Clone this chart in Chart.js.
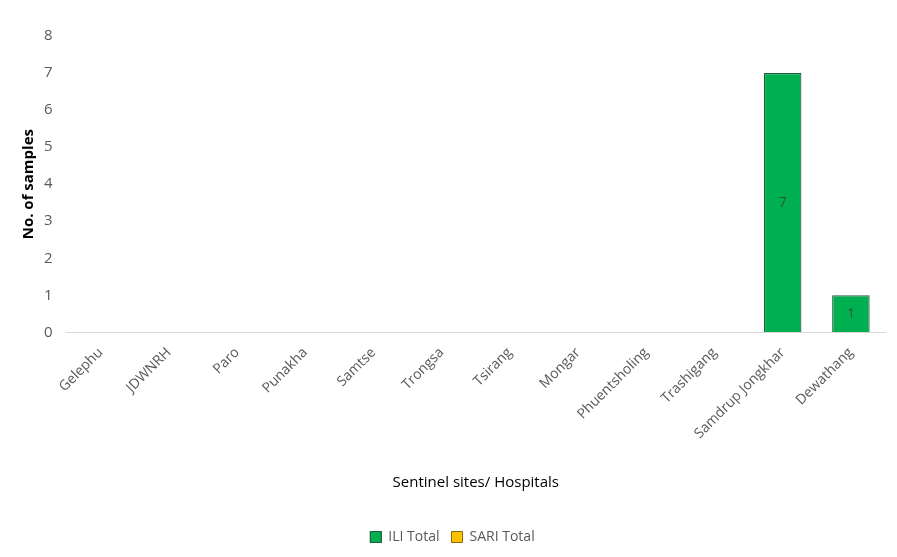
<!DOCTYPE html>
<html>
<head>
<meta charset="utf-8">
<script src="https://cdn.jsdelivr.net/npm/chart.js@4.4.0/dist/chart.umd.min.js"></script>
<style>
  html, body { margin: 0; padding: 0; background: #fff; }
  #wrap { width: 897px; height: 557px; }
</style>
</head>
<body>
<div id="wrap"><canvas id="sitesChart"></canvas></div>
<script>
var sites = ['Gelephu', 'JDWNRH', 'Paro', 'Punakha', 'Samtse', 'Trongsa', 'Tsirang',
    'Mongar', 'Phuentsholing', 'Trashigang', 'Samdrup Jongkhar', 'Dewathang'];
var iliTotal = [0, 0, 0, 0, 0, 0, 0, 0, 0, 0, 7, 1];
var sariTotal = [0, 0, 0, 0, 0, 0, 0, 0, 0, 0, 0, 0];
var yTicks = [0, 1, 2, 3, 4, 5, 6, 7, 8];

var fontFamily = "'Open Sans', 'Liberation Sans', sans-serif";

// draws the value in the middle of each non-zero bar
var barLabels = {
    id: 'barLabels',
    afterDatasetsDraw: function(chart) {
        var ctx = chart.ctx;
        var meta = chart.getDatasetMeta(0);
        ctx.save();
        ctx.fillStyle = '#2f5a3a';
        ctx.font = '14px ' + fontFamily;
        ctx.textAlign = 'center';
        ctx.textBaseline = 'middle';
        meta.data.forEach(function(bar, i) {
            var v = iliTotal[i];
            if (!v) return;
            ctx.fillText(String(v), bar.x, (bar.y + bar.base) / 2);
        });
        ctx.restore();
    }
};

var ctx = document.getElementById('sitesChart');
var myChart = new Chart(ctx, {
    type: 'bar',
    data: {
        labels: sites,
        datasets: [{
            label: 'ILI Total',
            data: iliTotal,
            backgroundColor: '#00b050',
            borderColor: '#1f5f3a',
            borderWidth: 1.2,
            barPercentage: 0.55,
            categoryPercentage: 1.0,
            grouped: false,
            order: 0
        }, {
            label: 'SARI Total',
            data: sariTotal,
            backgroundColor: '#ffc000',
            borderColor: '#8a6a10',
            borderWidth: 1,
            barPercentage: 0.55,
            categoryPercentage: 1.0,
            grouped: false,
            order: 1
        }]
    },
    plugins: [barLabels],
    options: {
        responsive: true,
        maintainAspectRatio: false,
        animation: false,
        layout: { padding: { left: 20, right: 12, top: 36, bottom: 3 } },
        plugins: {
            tooltip: { enabled: false },
            legend: {
                position: 'bottom',
                labels: {
                    boxWidth: 11,
                    boxHeight: 11,
                    padding: 12,
                    color: '#595959',
                    font: { family: fontFamily, size: 14 },
                    sort: function(a, b) { return a.datasetIndex - b.datasetIndex; }
                }
            }
        },
        scales: {
            x: {
                grid: { display: false },
                border: { display: true, color: '#d9d9d9', width: 1 },
                ticks: {
                    color: '#595959',
                    font: { family: fontFamily, size: 14 },
                    maxRotation: 45,
                    minRotation: 45,
                    padding: 4
                },
                title: {
                    display: true,
                    text: 'Sentinel sites/ Hospitals',
                    color: '#000',
                    font: { family: fontFamily, size: 15 },
                    padding: { top: 28, bottom: 26 }
                }
            },
            y: {
                min: 0,
                max: 8,
                afterBuildTicks: function(axis) {
                    axis.ticks = yTicks.map(function(v) { return { value: v }; });
                },
                grid: { display: false },
                border: { display: false },
                ticks: {
                    color: '#595959',
                    font: { family: fontFamily, size: 15 },
                    padding: 6
                },
                title: {
                    display: true,
                    text: 'No. of samples',
                    color: '#000',
                    font: { family: fontFamily, size: 15, weight: 'bold' },
                    padding: { top: 0, bottom: 0 }
                }
            }
        }
    }
});
</script>
</body>
</html>
